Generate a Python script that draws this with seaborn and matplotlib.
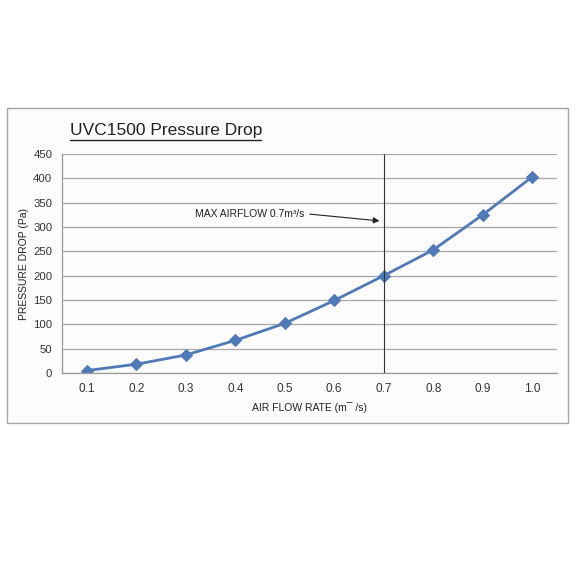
import numpy as np
import matplotlib
matplotlib.use("Agg")
import matplotlib.pyplot as plt
import seaborn as sns
from pandas import DataFrame as df
from matplotlib.patches import Rectangle

flow = ["0.1", "0.2", "0.3", "0.4", "0.5", "0.6", "0.7", "0.8", "0.9", "1.0"]
drop = [5, 18, 37, 67, 102, 149, 200, 253, 325, 403]
yticks = [0, 50, 100, 150, 200, 250, 300, 350, 400, 450]

sns.set_style("white")
plt.rcParams['font.family'] = ['Liberation Sans', 'DejaVu Sans']

fig = plt.figure(figsize=(5.76, 5.76), dpi=100)
fig.patch.set_facecolor("white")
# chart frame
fig.patches.append(Rectangle((7/576, 1-423/576), 561/576, 315/576, transform=fig.transFigure,
                             facecolor="#fcfcfc", edgecolor="#a6a6a6", lw=1.0, zorder=-5))

ax = fig.add_axes([62/576, 1-373/576, 495/576, 219/576])
ax.set_zorder(2)
ax.set_facecolor("#fcfcfc")
data = df({"x": np.arange(len(flow)), "y": drop})
sns.lineplot(data=data, x="x", y="y", ax=ax, color="#5079b8", lw=2.0,
             marker="D", markersize=6, markeredgecolor="#5079b8")

ax.set_xlim(-0.5, len(flow)-0.5)
ax.set_ylim(0, 450)
ax.set_yticks(yticks)
ax.set_xticks(np.arange(len(flow)))
ax.set_xticklabels(flow)
ax.set_xticks(np.arange(len(flow)+1)-0.5, minor=True)
ax.tick_params(axis="x", which="major", length=0, labelsize=8.5, colors="#333333", pad=7)
ax.tick_params(axis="x", which="minor", length=4, color="#888888", direction="out")
ax.tick_params(axis="y", length=4, labelsize=8.2, colors="#333333", direction="out", pad=3)
ax.tick_params(axis="y", color="#888888")
ax.grid(axis="y", color="#a8a8a8", lw=0.9)
for s in ["top", "right"]:
    ax.spines[s].set_visible(False)
for s in ["left", "bottom"]:
    ax.spines[s].set_color("#999999")
    ax.spines[s].set_linewidth(0.9)

ax.set_xlabel("AIR FLOW RATE (m\u00af /s)", fontsize=7.5, color="#222222", labelpad=5)
ax.set_ylabel("PRESSURE DROP (Pa)", fontsize=7.5, color="#222222", labelpad=3)

# max airflow marker
ax.axvline(flow.index("0.7"), ymin=0, ymax=1.0, color="#333333", lw=0.8)
ax.annotate("", xy=(5.97, 312), xytext=(4.45, 327),
            arrowprops=dict(arrowstyle="-|>", color="#222222", lw=0.8, mutation_scale=9))
ax.text(3.3, 327, "MAX AIRFLOW 0.7m\u00b3/s", fontsize=7.5, ha="center", va="center", color="#222222")

fig.text(70/576, 1-130/576, "UVC1500 Pressure Drop", fontsize=12.5, ha="left", va="center",
         color="#222222")
fig.lines.append(plt.Line2D([70/576, 261/576], [1-140/576, 1-140/576], transform=fig.transFigure,
                            color="#222222", lw=1.0))

plt.savefig("out.png", dpi=100)
